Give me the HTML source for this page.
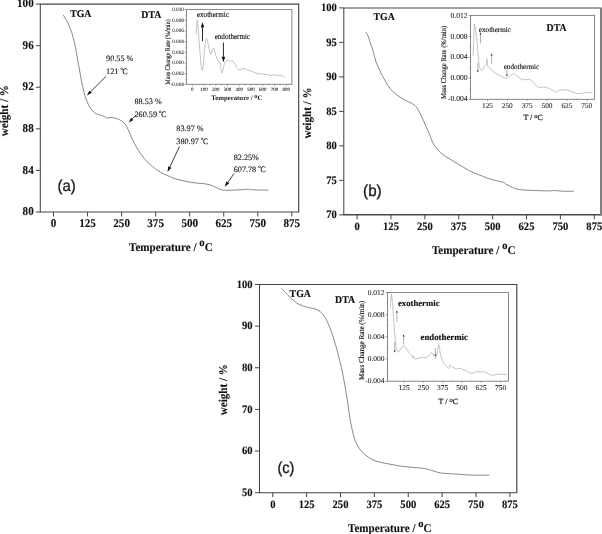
<!DOCTYPE html>
<html lang="en"><head><meta charset="utf-8"><title>TGA / DTA curves</title>
<style>
html,body{margin:0;padding:0;background:#fff}
body{width:602px;height:534px;overflow:hidden}
svg{display:block}
text{font-family:"Liberation Serif",serif;fill:#111;text-rendering:geometricPrecision}
.tk{font-size:11.1px;font-weight:bold;stroke:#111;stroke-width:.12}
.tk10{font-size:10.6px;font-weight:bold;stroke:#111;stroke-width:.12}
.al{font-size:11.1px;font-weight:bold;stroke:#111;stroke-width:.12}
.bl{font-size:9.8px;font-weight:bold;stroke:#111;stroke-width:.15}
.pl{font-family:"Liberation Sans",sans-serif;font-size:16px;fill:#1a1a1a;stroke:#1a1a1a;stroke-width:.35}
.an{font-size:8.2px;fill:#111;stroke:#111;stroke-width:.1}
.it{fill:#1a1a1a;stroke:#1a1a1a;stroke-width:.07}
.itb{fill:#1a1a1a;stroke:#1a1a1a;stroke-width:.22}
.iy{fill:#111;stroke:#111;stroke-width:.14}
.ibx{font-weight:bold;fill:#1a1a1a}
.in{fill:#111;stroke:#111;stroke-width:.13}
.ib{font-weight:bold;fill:#111;stroke:#111;stroke-width:.15}
</style></head><body>
<svg width="602" height="534" viewBox="0 0 602 534">
<rect width="602" height="534" fill="#fff"/>
<g id="a">
<path d="M40.3,212.0V4.1H298.7" fill="none" stroke="#444" stroke-width="1.05"/>
<path d="M39.8,212.0H298.7V3.5999999999999996" fill="none" stroke="#444" stroke-width="1.15"/>
<path d="M35.90,4.10H40.30" stroke="#444" stroke-width="1"/><path d="M35.90,45.68H40.30" stroke="#444" stroke-width="1"/><path d="M35.90,87.26H40.30" stroke="#444" stroke-width="1"/><path d="M35.90,128.84H40.30" stroke="#444" stroke-width="1"/><path d="M35.90,170.42H40.30" stroke="#444" stroke-width="1"/><path d="M35.90,212.00H40.30" stroke="#444" stroke-width="1"/>
<path d="M53.50,212.00V216.50" stroke="#444" stroke-width="1"/><path d="M87.55,212.00V216.50" stroke="#444" stroke-width="1"/><path d="M121.60,212.00V216.50" stroke="#444" stroke-width="1"/><path d="M155.65,212.00V216.50" stroke="#444" stroke-width="1"/><path d="M189.70,212.00V216.50" stroke="#444" stroke-width="1"/><path d="M223.75,212.00V216.50" stroke="#444" stroke-width="1"/><path d="M257.80,212.00V216.50" stroke="#444" stroke-width="1"/><path d="M291.85,212.00V216.50" stroke="#444" stroke-width="1"/>
<text transform="translate(33.7,7.2) scale(1,1.07)" class="tk" text-anchor="end">100</text>
<text transform="translate(33.7,48.8) scale(1,1.07)" class="tk" text-anchor="end">96</text>
<text transform="translate(33.7,90.4) scale(1,1.07)" class="tk" text-anchor="end">92</text>
<text transform="translate(33.7,131.9) scale(1,1.07)" class="tk" text-anchor="end">88</text>
<text transform="translate(33.7,173.5) scale(1,1.07)" class="tk" text-anchor="end">84</text>
<text transform="translate(33.7,215.1) scale(1,1.07)" class="tk" text-anchor="end">80</text>
<text transform="translate(53.5,227.4) scale(1,1.07)" class="tk" text-anchor="middle">0</text>
<text transform="translate(87.5,227.4) scale(1,1.07)" class="tk" text-anchor="middle">125</text>
<text transform="translate(121.6,227.4) scale(1,1.07)" class="tk" text-anchor="middle">250</text>
<text transform="translate(155.6,227.4) scale(1,1.07)" class="tk" text-anchor="middle">375</text>
<text transform="translate(189.7,227.4) scale(1,1.07)" class="tk" text-anchor="middle">500</text>
<text transform="translate(223.8,227.4) scale(1,1.07)" class="tk" text-anchor="middle">625</text>
<text transform="translate(257.8,227.4) scale(1,1.07)" class="tk" text-anchor="middle">750</text>
<text transform="translate(291.8,227.4) scale(1,1.07)" class="tk" text-anchor="middle">875</text>
<text transform="translate(7.9,136.3) rotate(-90) scale(1,1.07)" class="al" font-size="10.9">weight / %</text>
<text transform="translate(129,250.8) scale(1,1.07)" class="al" font-size="10.85">Temperature / <tspan dy="-4.3" font-size="10.85">o</tspan><tspan dy="4.3">C</tspan></text>
<path d="M63.2,15.0 C63.7,15.8 65.1,17.8 66.0,19.5 C66.9,21.2 67.7,22.4 68.8,25.0 C69.8,27.6 71.5,31.7 72.5,35.0 C73.5,38.3 74.2,41.5 75.0,45.0 C75.8,48.5 76.2,51.8 77.0,56.0 C77.8,60.2 78.8,66.0 79.5,70.0 C80.2,74.0 80.7,76.9 81.3,80.1 C81.9,83.2 82.6,86.2 83.2,88.9 C83.8,91.6 84.5,94.3 85.1,96.4 C85.7,98.5 86.2,99.5 87.0,101.4 C87.8,103.3 88.9,105.9 90.1,107.7 C91.2,109.5 92.8,111.0 93.9,112.1 C95.1,113.2 95.8,113.7 97.0,114.2 C98.2,114.7 99.5,114.7 100.8,115.1 C102.1,115.5 103.4,116.2 104.6,116.7 C105.8,117.2 106.8,118.1 107.7,118.2 C108.6,118.3 109.3,117.6 110.2,117.5 C111.1,117.4 112.0,117.5 113.3,117.7 C114.5,118.0 116.3,118.5 117.7,119.0 C119.1,119.5 120.2,120.0 121.5,120.9 C122.8,121.8 124.3,122.9 125.5,124.6 C126.7,126.3 127.6,128.5 128.8,131.0 C130.0,133.5 131.0,136.8 132.5,139.8 C134.0,142.8 135.5,145.6 137.6,148.9 C139.7,152.2 142.6,156.7 145.1,159.6 C147.6,162.5 150.1,164.4 152.6,166.5 C155.1,168.6 157.7,170.6 160.2,172.1 C162.7,173.6 165.1,174.4 167.7,175.6 C170.3,176.8 172.9,178.0 176.0,179.0 C179.1,180.0 182.7,180.7 186.0,181.4 C189.3,182.1 192.7,182.6 196.0,183.0 C199.3,183.4 203.2,183.5 206.0,184.0 C208.8,184.5 210.6,185.1 212.5,185.8 C214.4,186.5 215.8,187.5 217.5,188.2 C219.2,188.9 220.8,189.7 222.5,190.0 C224.2,190.3 224.6,190.3 227.5,190.3 C230.4,190.3 236.7,190.0 240.0,189.8 C243.3,189.6 245.4,189.2 247.5,189.2 C249.6,189.2 249.0,189.7 252.5,189.8 C256.0,190.0 265.8,190.1 268.5,190.1" fill="none" stroke="#606060" stroke-width="0.75"/>
<text transform="translate(70.2,16.5) scale(1,1.07)" class="bl">TGA</text>
<text transform="translate(141.3,17.9) scale(1,1.07)" class="bl" font-size="10.1">DTA</text>
<text x="57.5" y="191.4" class="pl" textLength="18.2" lengthAdjust="spacingAndGlyphs">(a)</text>
<text x="106.1" y="61.2" class="an">90.55 %</text>
<text x="106.1" y="73.7" class="an">121 <tspan dy="-3.6" font-size="4.9">o</tspan><tspan dy="3.6" dx="-0.3" textLength="5.2" lengthAdjust="spacingAndGlyphs">C</tspan></text>
<text x="134.5" y="103.8" class="an">88.53 %</text>
<text x="134.5" y="116.5" class="an">260.59 <tspan dy="-3.6" font-size="4.9">o</tspan><tspan dy="3.6" dx="-0.3" textLength="5.2" lengthAdjust="spacingAndGlyphs">C</tspan></text>
<text x="176.3" y="131.3" class="an">83.97 %</text>
<text x="176.3" y="144" class="an">380.97 <tspan dy="-3.6" font-size="4.9">o</tspan><tspan dy="3.6" dx="-0.3" textLength="5.2" lengthAdjust="spacingAndGlyphs">C</tspan></text>
<text x="233.7" y="159.8" class="an">82.25%</text>
<text x="233.7" y="172" class="an">607.78 <tspan dy="-3.6" font-size="4.9">o</tspan><tspan dy="3.6" dx="-0.3" textLength="5.2" lengthAdjust="spacingAndGlyphs">C</tspan></text>
<path d="M106.2,76.2L90.7,91.6" stroke="#111" stroke-width="0.8" fill="none"/><path d="M86.8,95.5L89.5,90.4L91.9,92.8Z" fill="#111"/>
<path d="M135.8,115.2L132.2,118.9" stroke="#111" stroke-width="0.8" fill="none"/><path d="M128.8,122.5L131.0,117.7L133.4,120.1Z" fill="#111"/>
<path d="M179.5,146.5L169.8,167.0" stroke="#111" stroke-width="0.8" fill="none"/><path d="M167.5,172.0L168.3,166.3L171.4,167.7Z" fill="#111"/>
<path d="M234.1,173.4L227.9,182.3" stroke="#111" stroke-width="0.8" fill="none"/><path d="M224.7,186.8L226.5,181.3L229.3,183.3Z" fill="#111"/>
<rect x="186.4" y="9.6" width="105.50" height="74.70" fill="none" stroke="#7a7a7a" stroke-width="0.9"/>
<path d="M184.50,9.60H186.40" stroke="#7a7a7a" stroke-width="0.7"/><path d="M184.50,20.27H186.40" stroke="#7a7a7a" stroke-width="0.7"/><path d="M184.50,30.94H186.40" stroke="#7a7a7a" stroke-width="0.7"/><path d="M184.50,41.61H186.40" stroke="#7a7a7a" stroke-width="0.7"/><path d="M184.50,52.29H186.40" stroke="#7a7a7a" stroke-width="0.7"/><path d="M184.50,62.96H186.40" stroke="#7a7a7a" stroke-width="0.7"/><path d="M184.50,73.63H186.40" stroke="#7a7a7a" stroke-width="0.7"/><path d="M184.50,84.30H186.40" stroke="#7a7a7a" stroke-width="0.7"/>
<path d="M185.36,14.94H186.40" stroke="#7a7a7a" stroke-width="0.6"/><path d="M185.36,25.61H186.40" stroke="#7a7a7a" stroke-width="0.6"/><path d="M185.36,36.28H186.40" stroke="#7a7a7a" stroke-width="0.6"/><path d="M185.36,46.95H186.40" stroke="#7a7a7a" stroke-width="0.6"/><path d="M185.36,57.62H186.40" stroke="#7a7a7a" stroke-width="0.6"/><path d="M185.36,68.29H186.40" stroke="#7a7a7a" stroke-width="0.6"/><path d="M185.36,78.96H186.40" stroke="#7a7a7a" stroke-width="0.6"/>
<path d="M192.30,84.30V85.82" stroke="#7a7a7a" stroke-width="0.7"/><path d="M204.05,84.30V85.82" stroke="#7a7a7a" stroke-width="0.7"/><path d="M215.80,84.30V85.82" stroke="#7a7a7a" stroke-width="0.7"/><path d="M227.55,84.30V85.82" stroke="#7a7a7a" stroke-width="0.7"/><path d="M239.30,84.30V85.82" stroke="#7a7a7a" stroke-width="0.7"/><path d="M251.05,84.30V85.82" stroke="#7a7a7a" stroke-width="0.7"/><path d="M262.80,84.30V85.82" stroke="#7a7a7a" stroke-width="0.7"/><path d="M274.55,84.30V85.82" stroke="#7a7a7a" stroke-width="0.7"/><path d="M286.30,84.30V85.82" stroke="#7a7a7a" stroke-width="0.7"/>
<path d="M198.18,84.30V85.25" stroke="#7a7a7a" stroke-width="0.6"/><path d="M209.93,84.30V85.25" stroke="#7a7a7a" stroke-width="0.6"/><path d="M221.68,84.30V85.25" stroke="#7a7a7a" stroke-width="0.6"/><path d="M233.43,84.30V85.25" stroke="#7a7a7a" stroke-width="0.6"/><path d="M245.18,84.30V85.25" stroke="#7a7a7a" stroke-width="0.6"/><path d="M256.93,84.30V85.25" stroke="#7a7a7a" stroke-width="0.6"/><path d="M268.68,84.30V85.25" stroke="#7a7a7a" stroke-width="0.6"/><path d="M280.43,84.30V85.25" stroke="#7a7a7a" stroke-width="0.6"/>
<text x="183.9" y="10.9" class="it" font-size="5.2" text-anchor="end">0.010</text>
<text x="183.9" y="21.6" class="it" font-size="5.2" text-anchor="end">0.008</text>
<text x="183.9" y="32.2" class="it" font-size="5.2" text-anchor="end">0.006</text>
<text x="183.9" y="42.9" class="it" font-size="5.2" text-anchor="end">0.004</text>
<text x="183.9" y="53.6" class="it" font-size="5.2" text-anchor="end">0.002</text>
<text x="183.9" y="64.3" class="it" font-size="5.2" text-anchor="end">0.000</text>
<text x="183.9" y="74.9" class="it" font-size="5.2" text-anchor="end">-0.002</text>
<text x="183.9" y="85.6" class="it" font-size="5.2" text-anchor="end">-0.004</text>
<text x="192.3" y="90.8" class="it" font-size="5.0" text-anchor="middle">0</text>
<text x="204.1" y="90.8" class="it" font-size="5.0" text-anchor="middle">100</text>
<text x="215.8" y="90.8" class="it" font-size="5.0" text-anchor="middle">200</text>
<text x="227.6" y="90.8" class="it" font-size="5.0" text-anchor="middle">300</text>
<text x="239.3" y="90.8" class="it" font-size="5.0" text-anchor="middle">400</text>
<text x="251.1" y="90.8" class="it" font-size="5.0" text-anchor="middle">500</text>
<text x="262.8" y="90.8" class="it" font-size="5.0" text-anchor="middle">600</text>
<text x="274.6" y="90.8" class="it" font-size="5.0" text-anchor="middle">700</text>
<text x="286.3" y="90.8" class="it" font-size="5.0" text-anchor="middle">800</text>
<text transform="translate(170.1,84.4) rotate(-90)" class="iy" font-size="6.9" textLength="65" lengthAdjust="spacingAndGlyphs">Mass Change Rate (%/min)</text>
<text x="211.3" y="100" class="ibx" font-size="6.8">Temperature / <tspan dy="-2.4" font-size="6.4">o</tspan><tspan dy="2.4">C</tspan></text>
<path d="M196.2,34.4 C196.3,33.0 196.5,28.4 196.7,26.0 C196.9,23.6 197.0,19.8 197.2,19.8 C197.4,19.8 197.7,22.3 198.0,26.0 C198.3,29.7 198.8,36.3 199.2,42.0 C199.6,47.7 200.2,55.7 200.6,60.0 C201.0,64.3 201.3,66.3 201.6,68.0 C201.9,69.7 202.0,70.6 202.3,70.3 C202.6,70.0 202.9,69.0 203.2,66.0 C203.5,63.0 204.0,56.0 204.3,52.0 C204.7,48.0 205.0,44.2 205.3,42.0 C205.6,39.8 205.9,38.7 206.3,38.5 C206.7,38.3 207.1,39.3 207.5,41.0 C207.9,42.7 208.5,46.3 209.0,48.5 C209.5,50.7 210.2,53.6 210.6,54.4 C211.0,55.1 211.2,53.9 211.5,53.0 C211.8,52.1 212.3,49.8 212.6,49.0 C212.9,48.2 213.2,47.9 213.5,48.1 C213.8,48.4 214.2,49.2 214.6,50.5 C215.0,51.8 215.5,54.4 216.0,56.0 C216.5,57.6 217.0,59.1 217.5,60.0 C218.0,60.9 218.6,61.0 219.0,61.5 C219.4,62.0 219.7,61.8 220.0,63.0 C220.3,64.2 220.7,67.3 221.0,69.0 C221.3,70.7 221.6,72.9 221.9,73.1 C222.2,73.3 222.6,71.4 223.0,70.0 C223.4,68.6 223.8,66.0 224.2,64.5 C224.6,63.0 224.9,62.0 225.5,61.3 C226.1,60.5 226.9,60.1 227.5,60.0 C228.1,59.9 228.5,60.2 229.0,60.5 C229.5,60.8 229.9,61.5 230.4,61.5 C230.9,61.5 231.7,60.6 232.2,60.6 C232.8,60.6 233.1,61.3 233.5,61.8 C233.9,62.3 234.2,62.9 234.8,63.8 C235.2,64.6 235.9,66.0 236.5,67.0 C237.1,68.0 237.8,69.6 238.5,70.0 C239.2,70.4 240.1,69.7 241.0,69.4 C241.9,69.1 243.1,68.3 244.1,68.4 C245.1,68.5 246.1,69.6 247.2,70.0 C248.4,70.4 249.5,70.5 251.0,71.0 C252.5,71.5 254.3,72.6 256.0,73.1 C257.7,73.6 259.8,73.9 261.0,74.1 C262.2,74.2 262.7,73.9 263.5,74.0 C264.3,74.1 265.4,74.7 266.0,74.8 C266.6,74.8 266.4,74.3 267.2,74.4 C268.1,74.5 269.8,75.5 271.0,75.6 C272.2,75.7 273.5,74.8 274.8,74.8 C276.0,74.8 277.5,75.5 278.5,75.6 C279.5,75.7 280.0,74.9 281.0,75.2 C282.0,75.6 284.1,77.1 284.8,77.5" fill="none" stroke="#9a9a9a" stroke-width="0.6"/>
<text x="196.9" y="16.9" class="in" font-size="8" textLength="31.9" lengthAdjust="spacingAndGlyphs">exothermic</text>
<text x="214.7" y="38.8" class="in" font-size="8" textLength="35.3" lengthAdjust="spacingAndGlyphs">endothermic</text>
<path d="M202.5,41.2L202.5,27.6" stroke="#111" stroke-width="0.9" fill="none"/><path d="M202.5,22.1L204.2,27.6L200.8,27.6Z" fill="#111"/>
<path d="M223.4,42.5L223.4,56.8" stroke="#111" stroke-width="0.9" fill="none"/><path d="M223.4,62.2L221.7,56.8L225.2,56.8Z" fill="#111"/>
</g>
<g id="b">
<path d="M343.8,214.85V7.9H600.6" fill="none" stroke="#444" stroke-width="1.05"/>
<path d="M343.3,214.85H602" fill="none" stroke="#4a4a4a" stroke-width="1.5"/>
<path d="M601,7.4V215.6" fill="none" stroke="#808080" stroke-width="2"/>
<path d="M339.20,7.90H343.80" stroke="#444" stroke-width="1"/><path d="M339.20,42.39H343.80" stroke="#444" stroke-width="1"/><path d="M339.20,76.88H343.80" stroke="#444" stroke-width="1"/><path d="M339.20,111.37H343.80" stroke="#444" stroke-width="1"/><path d="M339.20,145.87H343.80" stroke="#444" stroke-width="1"/><path d="M339.20,180.36H343.80" stroke="#444" stroke-width="1"/><path d="M339.20,214.85H343.80" stroke="#444" stroke-width="1"/>
<path d="M357.10,214.85V219.35" stroke="#444" stroke-width="1"/><path d="M390.98,214.85V219.35" stroke="#444" stroke-width="1"/><path d="M424.86,214.85V219.35" stroke="#444" stroke-width="1"/><path d="M458.74,214.85V219.35" stroke="#444" stroke-width="1"/><path d="M492.62,214.85V219.35" stroke="#444" stroke-width="1"/><path d="M526.50,214.85V219.35" stroke="#444" stroke-width="1"/><path d="M560.38,214.85V219.35" stroke="#444" stroke-width="1"/><path d="M594.26,214.85V219.35" stroke="#444" stroke-width="1"/>
<text transform="translate(336.9,11.0) scale(1,1.07)" class="tk10" text-anchor="end">100</text>
<text transform="translate(336.9,45.5) scale(1,1.07)" class="tk10" text-anchor="end">95</text>
<text transform="translate(336.9,80.0) scale(1,1.07)" class="tk10" text-anchor="end">90</text>
<text transform="translate(336.9,114.5) scale(1,1.07)" class="tk10" text-anchor="end">85</text>
<text transform="translate(336.9,149.0) scale(1,1.07)" class="tk10" text-anchor="end">80</text>
<text transform="translate(336.9,183.5) scale(1,1.07)" class="tk10" text-anchor="end">75</text>
<text transform="translate(336.9,217.9) scale(1,1.07)" class="tk10" text-anchor="end">70</text>
<text transform="translate(357.1,230.1) scale(1,1.07)" class="tk10" text-anchor="middle">0</text>
<text transform="translate(391.0,230.1) scale(1,1.07)" class="tk10" text-anchor="middle">125</text>
<text transform="translate(424.9,230.1) scale(1,1.07)" class="tk10" text-anchor="middle">250</text>
<text transform="translate(458.7,230.1) scale(1,1.07)" class="tk10" text-anchor="middle">375</text>
<text transform="translate(492.6,230.1) scale(1,1.07)" class="tk10" text-anchor="middle">500</text>
<text transform="translate(526.5,230.1) scale(1,1.07)" class="tk10" text-anchor="middle">625</text>
<text transform="translate(560.4,230.1) scale(1,1.07)" class="tk10" text-anchor="middle">750</text>
<text transform="translate(594.3,230.1) scale(1,1.07)" class="tk10" text-anchor="middle">875</text>
<text transform="translate(311.1,138.6) rotate(-90) scale(1,1.07)" class="al" font-size="10.75">weight / %</text>
<text transform="translate(431.9,253.5) scale(1,1.07)" class="al" font-size="10.55">Temperature / <tspan dy="-4.3" font-size="10.55">o</tspan><tspan dy="4.3">C</tspan></text>
<path d="M365.7,31.9 C366.0,32.4 366.9,33.3 367.7,35.1 C368.4,36.9 369.3,39.9 370.2,42.6 C371.1,45.3 372.3,48.3 373.2,51.4 C374.1,54.5 374.7,58.1 375.7,61.0 C376.7,63.9 377.8,66.4 379.0,69.0 C380.2,71.6 381.3,73.8 382.8,76.5 C384.3,79.2 386.1,82.8 387.8,85.3 C389.5,87.8 390.9,89.6 392.8,91.5 C394.7,93.4 397.0,95.1 399.1,96.6 C401.2,98.1 403.2,99.2 405.3,100.3 C407.4,101.4 409.8,102.2 411.6,103.3 C413.4,104.3 414.5,105.0 415.9,106.6 C417.3,108.2 418.6,110.6 419.9,112.9 C421.1,115.2 422.3,117.9 423.4,120.4 C424.5,122.9 425.6,125.4 426.7,127.9 C427.8,130.4 428.9,132.8 430.0,135.5 C431.1,138.2 431.8,141.2 433.5,144.0 C435.2,146.8 437.8,150.1 440.5,152.6 C443.2,155.1 446.4,156.9 450.0,159.2 C453.6,161.5 458.3,164.3 462.0,166.4 C465.7,168.5 468.7,170.4 472.0,172.0 C475.3,173.6 478.6,174.7 482.0,176.0 C485.4,177.3 488.5,178.5 492.1,179.6 C495.7,180.7 501.1,181.6 503.4,182.4 C505.7,183.2 504.6,183.5 505.9,184.2 C507.2,184.9 509.1,185.8 511.0,186.6 C512.9,187.4 514.5,188.6 517.2,189.2 C519.9,189.8 522.2,189.9 527.2,190.2 C532.2,190.5 542.7,190.8 547.3,190.9 C551.9,191.0 552.3,190.4 554.8,190.5 C557.3,190.6 559.2,191.1 562.4,191.2 C565.6,191.3 572.0,191.2 573.9,191.2" fill="none" stroke="#606060" stroke-width="0.75"/>
<text transform="translate(373.5,20.2) scale(1,1.07)" class="bl">TGA</text>
<text transform="translate(546.6,30.7) scale(1,1.07)" class="bl">DTA</text>
<text x="363.1" y="196.4" class="pl" textLength="18.5" lengthAdjust="spacingAndGlyphs">(b)</text>
<rect x="470.5" y="15.4" width="124.10" height="83.90" fill="none" stroke="#7a7a7a" stroke-width="0.9"/>
<path d="M468.50,15.40H470.50" stroke="#7a7a7a" stroke-width="0.7"/><path d="M468.50,36.38H470.50" stroke="#7a7a7a" stroke-width="0.7"/><path d="M468.50,57.35H470.50" stroke="#7a7a7a" stroke-width="0.7"/><path d="M468.50,78.33H470.50" stroke="#7a7a7a" stroke-width="0.7"/><path d="M468.50,99.30H470.50" stroke="#7a7a7a" stroke-width="0.7"/>
<path d="M469.40,25.89H470.50" stroke="#7a7a7a" stroke-width="0.6"/><path d="M469.40,46.86H470.50" stroke="#7a7a7a" stroke-width="0.6"/><path d="M469.40,67.84H470.50" stroke="#7a7a7a" stroke-width="0.6"/><path d="M469.40,88.81H470.50" stroke="#7a7a7a" stroke-width="0.6"/>
<path d="M487.50,99.30V100.90" stroke="#7a7a7a" stroke-width="0.7"/><path d="M507.34,99.30V100.90" stroke="#7a7a7a" stroke-width="0.7"/><path d="M527.18,99.30V100.90" stroke="#7a7a7a" stroke-width="0.7"/><path d="M547.02,99.30V100.90" stroke="#7a7a7a" stroke-width="0.7"/><path d="M566.86,99.30V100.90" stroke="#7a7a7a" stroke-width="0.7"/><path d="M586.70,99.30V100.90" stroke="#7a7a7a" stroke-width="0.7"/>
<path d="M477.58,99.30V100.30" stroke="#7a7a7a" stroke-width="0.6"/><path d="M497.42,99.30V100.30" stroke="#7a7a7a" stroke-width="0.6"/><path d="M517.26,99.30V100.30" stroke="#7a7a7a" stroke-width="0.6"/><path d="M537.10,99.30V100.30" stroke="#7a7a7a" stroke-width="0.6"/><path d="M556.94,99.30V100.30" stroke="#7a7a7a" stroke-width="0.6"/><path d="M576.78,99.30V100.30" stroke="#7a7a7a" stroke-width="0.6"/>
<text x="467.6" y="17.5" class="it" font-size="7.6" text-anchor="end">0.012</text>
<text x="467.6" y="38.5" class="it" font-size="7.6" text-anchor="end">0.008</text>
<text x="467.6" y="59.4" class="it" font-size="7.6" text-anchor="end">0.004</text>
<text x="467.6" y="80.4" class="it" font-size="7.6" text-anchor="end">0.000</text>
<text x="467.6" y="101.4" class="it" font-size="7.6" text-anchor="end">-0.004</text>
<text x="487.5" y="107.6" class="it" font-size="7.3" text-anchor="middle">125</text>
<text x="507.3" y="107.6" class="it" font-size="7.3" text-anchor="middle">250</text>
<text x="527.2" y="107.6" class="it" font-size="7.3" text-anchor="middle">375</text>
<text x="547.0" y="107.6" class="it" font-size="7.3" text-anchor="middle">500</text>
<text x="566.9" y="107.6" class="it" font-size="7.3" text-anchor="middle">625</text>
<text x="586.7" y="107.6" class="it" font-size="7.3" text-anchor="middle">750</text>
<text transform="translate(446.1,98.9) rotate(-90)" class="iy" font-size="7.3" textLength="73" lengthAdjust="spacingAndGlyphs">Mass Change Rate (%/min)</text>
<text x="533.1" y="120.4" class="itb" font-size="7.9" text-anchor="middle">T / <tspan dy="-2.3" font-size="6.6">o</tspan><tspan dy="2.3">C</tspan></text>
<path d="M473.1,55.6 C473.2,52.7 473.6,43.3 473.8,38.0 C474.0,32.7 474.1,25.3 474.4,24.0 C474.7,22.7 475.1,27.3 475.5,30.0 C475.9,32.7 476.5,36.2 476.9,40.0 C477.3,43.8 477.7,49.2 478.0,53.0 C478.3,56.8 478.5,60.2 478.8,62.5 C479.0,64.8 479.3,65.8 479.6,67.0 C479.9,68.2 480.1,68.9 480.6,69.4 C481.1,69.9 481.9,70.5 482.5,70.0 C483.1,69.5 483.8,67.2 484.4,66.2 C485.0,65.3 485.7,65.3 486.1,64.6 C486.5,63.9 486.5,63.0 486.6,62.0 C486.7,61.0 486.8,58.6 486.9,58.8 C487.0,58.9 487.1,61.8 487.3,63.0 C487.5,64.2 487.4,65.3 487.9,66.2 C488.3,67.2 489.0,67.8 490.0,68.8 C491.0,69.7 492.3,70.9 493.8,71.9 C495.2,72.9 497.1,74.1 498.8,75.0 C500.4,75.9 502.5,77.0 503.8,77.5 C505.0,78.0 505.3,78.3 506.2,78.1 C507.2,77.9 508.3,77.0 509.4,76.2 C510.5,75.5 512.1,74.0 513.1,73.8 C514.1,73.5 514.5,74.2 515.6,75.0 C516.8,75.8 518.4,77.7 520.0,78.5 C521.6,79.3 523.5,79.6 525.0,79.8 C526.5,79.9 527.8,79.4 528.8,79.4 C529.7,79.4 529.8,79.1 530.5,79.6 C531.2,80.1 532.1,81.3 533.2,82.5 C534.4,83.7 536.4,86.1 537.6,86.9 C538.9,87.7 539.7,87.5 540.8,87.5 C541.8,87.5 542.6,86.8 543.9,86.9 C545.1,87.0 546.9,87.6 548.2,88.1 C549.6,88.6 550.6,89.1 552.0,89.8 C553.4,90.4 555.1,92.2 556.4,92.2 C557.6,92.3 558.4,90.7 559.5,90.2 C560.6,89.8 561.8,89.8 563.2,89.8 C564.7,89.8 566.6,89.8 568.2,90.2 C569.9,90.7 571.8,91.7 573.2,92.2 C574.7,92.8 575.5,93.3 577.0,93.5 C578.5,93.7 580.5,93.6 582.0,93.4 C583.5,93.2 584.0,92.6 585.8,92.5 C587.5,92.4 591.5,92.8 592.7,92.8" fill="none" stroke="#9a9a9a" stroke-width="0.6"/>
<text x="478.8" y="31.9" class="in" font-size="7.3" textLength="32.2" lengthAdjust="spacingAndGlyphs">exothermic</text>
<text x="503.7" y="68.9" class="in" font-size="7.3" textLength="35.5" lengthAdjust="spacingAndGlyphs">endothermic</text>
<path d="M480.5,43.3V33.800000000000004" stroke="#a8a8a8" stroke-width="0.9"/><path d="M480.5,32.6l-1,2.0h2z" fill="#2a2a2a"/>
<path d="M477.9,62.5V71.2" stroke="#a8a8a8" stroke-width="0.9"/><path d="M477.9,72.4l-1,-2.0h2z" fill="#2a2a2a"/>
<path d="M491.6,63.75V54.800000000000004" stroke="#a8a8a8" stroke-width="0.9"/><path d="M491.6,53.6l-1,2.0h2z" fill="#2a2a2a"/>
<path d="M506.9,70V75.39999999999999" stroke="#a8a8a8" stroke-width="0.9"/><path d="M506.9,76.6l-1,-2.0h2z" fill="#2a2a2a"/>
</g>
<g id="c">
<path d="M259.5,492.7V284.45H516.8" fill="none" stroke="#444" stroke-width="1.05"/>
<path d="M259.0,492.7H516.8V283.95" fill="none" stroke="#444" stroke-width="1.15"/>
<path d="M255.00,284.45H259.50" stroke="#444" stroke-width="1"/><path d="M255.00,326.10H259.50" stroke="#444" stroke-width="1"/><path d="M255.00,367.75H259.50" stroke="#444" stroke-width="1"/><path d="M255.00,409.40H259.50" stroke="#444" stroke-width="1"/><path d="M255.00,451.05H259.50" stroke="#444" stroke-width="1"/><path d="M255.00,492.70H259.50" stroke="#444" stroke-width="1"/>
<path d="M272.75,492.70V497.10" stroke="#444" stroke-width="1"/><path d="M306.63,492.70V497.10" stroke="#444" stroke-width="1"/><path d="M340.51,492.70V497.10" stroke="#444" stroke-width="1"/><path d="M374.39,492.70V497.10" stroke="#444" stroke-width="1"/><path d="M408.27,492.70V497.10" stroke="#444" stroke-width="1"/><path d="M442.15,492.70V497.10" stroke="#444" stroke-width="1"/><path d="M476.03,492.70V497.10" stroke="#444" stroke-width="1"/><path d="M509.91,492.70V497.10" stroke="#444" stroke-width="1"/>
<text transform="translate(252.6,287.6) scale(1,1.07)" class="tk10" text-anchor="end">100</text>
<text transform="translate(252.6,329.2) scale(1,1.07)" class="tk10" text-anchor="end">90</text>
<text transform="translate(252.6,370.9) scale(1,1.07)" class="tk10" text-anchor="end">80</text>
<text transform="translate(252.6,412.5) scale(1,1.07)" class="tk10" text-anchor="end">70</text>
<text transform="translate(252.6,454.1) scale(1,1.07)" class="tk10" text-anchor="end">60</text>
<text transform="translate(252.6,495.8) scale(1,1.07)" class="tk10" text-anchor="end">50</text>
<text transform="translate(272.8,508.2) scale(1,1.07)" class="tk10" text-anchor="middle">0</text>
<text transform="translate(306.6,508.2) scale(1,1.07)" class="tk10" text-anchor="middle">125</text>
<text transform="translate(340.5,508.2) scale(1,1.07)" class="tk10" text-anchor="middle">250</text>
<text transform="translate(374.4,508.2) scale(1,1.07)" class="tk10" text-anchor="middle">375</text>
<text transform="translate(408.3,508.2) scale(1,1.07)" class="tk10" text-anchor="middle">500</text>
<text transform="translate(442.1,508.2) scale(1,1.07)" class="tk10" text-anchor="middle">625</text>
<text transform="translate(476.0,508.2) scale(1,1.07)" class="tk10" text-anchor="middle">750</text>
<text transform="translate(509.9,508.2) scale(1,1.07)" class="tk10" text-anchor="middle">875</text>
<text transform="translate(226.9,415.2) rotate(-90) scale(1,1.07)" class="al" font-size="10.35">weight / %</text>
<text transform="translate(348,531.6) scale(1,1.07)" class="al" font-size="10.5">Temperature / <tspan dy="-4.2" font-size="10.5">o</tspan><tspan dy="4.2">C</tspan></text>
<path d="M281.5,288.3 C282.5,289.4 285.7,293.0 287.8,295.1 C289.8,297.2 292.1,299.2 294.0,300.8 C295.9,302.4 296.9,303.3 299.0,304.4 C301.1,305.4 304.3,306.4 306.6,307.1 C308.9,307.8 310.9,307.9 312.8,308.4 C314.7,308.9 316.3,309.2 317.9,310.1 C319.5,311.0 321.1,312.4 322.4,313.9 C323.7,315.4 324.6,316.6 325.9,318.9 C327.1,321.2 328.5,324.1 329.9,327.7 C331.3,331.2 332.8,335.6 334.2,340.2 C335.6,344.8 336.9,349.4 338.4,355.3 C339.9,361.2 341.6,368.2 343.0,375.3 C344.4,382.4 345.9,391.4 347.0,398.0 C348.1,404.6 348.6,410.1 349.4,415.0 C350.2,419.9 350.9,423.8 351.7,427.6 C352.5,431.4 353.4,434.9 354.2,437.6 C355.0,440.3 355.7,441.9 356.7,443.9 C357.7,445.9 358.6,447.7 360.0,449.5 C361.4,451.3 362.9,453.0 365.0,454.7 C367.1,456.4 370.0,458.4 372.5,459.7 C375.0,460.9 377.1,461.4 380.0,462.2 C382.9,462.9 386.7,463.6 390.0,464.2 C393.3,464.8 396.7,465.5 400.0,466.0 C403.3,466.5 406.7,466.9 410.0,467.2 C413.3,467.5 417.1,467.7 420.0,468.0 C422.9,468.3 425.0,468.6 427.5,469.2 C430.0,469.8 432.5,470.8 435.0,471.5 C437.5,472.2 439.2,472.8 442.5,473.2 C445.8,473.6 450.4,473.7 455.0,474.0 C459.6,474.3 465.8,474.8 470.0,475.0 C474.2,475.2 476.8,475.2 480.0,475.2 C483.2,475.2 487.8,475.2 489.4,475.2" fill="none" stroke="#606060" stroke-width="0.75"/>
<text transform="translate(289.6,296.7) scale(1,1.07)" class="bl" font-size="9.1">TGA</text>
<text transform="translate(335.1,303.1) scale(1,1.07)" class="bl" font-size="9.4">DTA</text>
<text x="277.5" y="472.7" class="pl" font-size="15.3" textLength="16.9" lengthAdjust="spacingAndGlyphs">(c)</text>
<rect x="387.5" y="292.45" width="121.00" height="88.75" fill="none" stroke="#7a7a7a" stroke-width="0.9"/>
<path d="M385.50,292.45H387.50" stroke="#7a7a7a" stroke-width="0.7"/><path d="M385.50,314.64H387.50" stroke="#7a7a7a" stroke-width="0.7"/><path d="M385.50,336.82H387.50" stroke="#7a7a7a" stroke-width="0.7"/><path d="M385.50,359.01H387.50" stroke="#7a7a7a" stroke-width="0.7"/><path d="M385.50,381.20H387.50" stroke="#7a7a7a" stroke-width="0.7"/>
<path d="M386.40,303.54H387.50" stroke="#7a7a7a" stroke-width="0.6"/><path d="M386.40,325.73H387.50" stroke="#7a7a7a" stroke-width="0.6"/><path d="M386.40,347.92H387.50" stroke="#7a7a7a" stroke-width="0.6"/><path d="M386.40,370.11H387.50" stroke="#7a7a7a" stroke-width="0.6"/>
<path d="M404.00,381.20V382.80" stroke="#7a7a7a" stroke-width="0.7"/><path d="M423.30,381.20V382.80" stroke="#7a7a7a" stroke-width="0.7"/><path d="M442.60,381.20V382.80" stroke="#7a7a7a" stroke-width="0.7"/><path d="M461.90,381.20V382.80" stroke="#7a7a7a" stroke-width="0.7"/><path d="M481.20,381.20V382.80" stroke="#7a7a7a" stroke-width="0.7"/><path d="M500.50,381.20V382.80" stroke="#7a7a7a" stroke-width="0.7"/>
<path d="M394.35,381.20V382.20" stroke="#7a7a7a" stroke-width="0.6"/><path d="M413.65,381.20V382.20" stroke="#7a7a7a" stroke-width="0.6"/><path d="M432.95,381.20V382.20" stroke="#7a7a7a" stroke-width="0.6"/><path d="M452.25,381.20V382.20" stroke="#7a7a7a" stroke-width="0.6"/><path d="M471.55,381.20V382.20" stroke="#7a7a7a" stroke-width="0.6"/><path d="M490.85,381.20V382.20" stroke="#7a7a7a" stroke-width="0.6"/>
<text x="384.6" y="294.6" class="it" font-size="7.5" text-anchor="end">0.012</text>
<text x="384.6" y="316.8" class="it" font-size="7.5" text-anchor="end">0.008</text>
<text x="384.6" y="339.0" class="it" font-size="7.5" text-anchor="end">0.004</text>
<text x="384.6" y="361.2" class="it" font-size="7.5" text-anchor="end">0.000</text>
<text x="384.6" y="383.3" class="it" font-size="7.5" text-anchor="end">-0.004</text>
<text x="404.0" y="390" class="it" font-size="7.5" text-anchor="middle">125</text>
<text x="423.3" y="390" class="it" font-size="7.5" text-anchor="middle">250</text>
<text x="442.6" y="390" class="it" font-size="7.5" text-anchor="middle">375</text>
<text x="461.9" y="390" class="it" font-size="7.5" text-anchor="middle">500</text>
<text x="481.2" y="390" class="it" font-size="7.5" text-anchor="middle">625</text>
<text x="500.5" y="390" class="it" font-size="7.5" text-anchor="middle">750</text>
<text transform="translate(363.7,379.9) rotate(-90)" class="iy" font-size="7.5" textLength="79" lengthAdjust="spacingAndGlyphs">Mass Change Rate (%/min)</text>
<text x="448.3" y="404" class="itb" font-size="7.9" text-anchor="middle">T / <tspan dy="-2.3" font-size="6.6">o</tspan><tspan dy="2.3">C</tspan></text>
<path d="M390.3,308.5 C390.4,307.1 390.7,302.4 390.9,300.0 C391.1,297.6 391.3,294.4 391.5,294.4 C391.7,294.4 392.0,297.9 392.2,300.0 C392.4,302.1 392.5,302.7 392.8,306.8 C393.1,310.9 393.6,318.8 394.0,324.4 C394.4,330.0 395.0,336.9 395.3,340.7 C395.6,344.5 395.7,345.4 396.0,347.0 C396.3,348.6 396.5,349.3 396.9,350.1 C397.3,350.9 397.7,352.0 398.2,352.0 C398.7,352.0 399.2,350.9 399.8,350.1 C400.4,349.3 401.3,347.7 401.9,347.0 C402.5,346.3 403.1,346.0 403.6,346.0 C404.1,346.0 404.4,346.2 405.1,347.0 C405.8,347.8 406.9,349.6 407.6,350.7 C408.4,351.8 409.0,352.8 409.6,353.6 C410.2,354.4 410.9,354.6 411.4,355.3 C411.9,356.0 412.4,357.7 412.7,357.8 C413.0,357.9 413.0,355.8 413.4,356.0 C413.8,356.2 414.1,358.7 415.2,359.0 C416.3,359.3 418.3,358.1 420.2,357.8 C422.1,357.5 424.8,357.9 426.5,357.3 C428.2,356.7 429.3,354.8 430.2,354.0 C431.1,353.2 431.4,352.4 432.0,352.8 C432.6,353.2 433.4,355.6 434.0,356.5 C434.6,357.4 435.2,358.9 435.7,358.3 C436.2,357.7 436.8,354.8 437.2,352.8 C437.7,350.8 437.9,347.9 438.2,346.5 C438.4,345.1 438.6,344.5 438.8,344.7 C438.9,344.9 439.1,346.1 439.4,347.5 C439.6,348.9 439.7,350.5 440.2,352.8 C440.8,355.1 441.8,359.2 442.8,361.5 C443.8,363.8 445.5,365.4 446.5,366.5 C447.5,367.6 448.4,368.6 449.0,368.3 C449.6,368.0 449.4,365.1 449.8,364.8 C450.2,364.5 450.4,365.8 451.5,366.5 C452.6,367.2 455.3,368.7 456.6,369.0 C457.9,369.3 457.9,368.2 459.4,368.4 C460.8,368.6 463.3,369.5 465.3,370.3 C467.3,371.1 469.6,373.1 471.6,373.3 C473.6,373.5 475.8,371.6 477.3,371.4 C478.8,371.2 479.5,372.3 480.4,372.3 C481.3,372.3 481.6,371.4 482.9,371.6 C484.1,371.8 486.4,372.7 487.9,373.3 C489.4,373.9 490.0,375.1 491.7,375.3 C493.4,375.5 495.5,374.4 498.0,374.3 C500.5,374.2 505.2,374.5 506.7,374.5" fill="none" stroke="#9a9a9a" stroke-width="0.6"/>
<text x="398" y="305.8" class="ib" font-size="8.7">exothermic</text>
<text x="420.5" y="340.3" class="ib" font-size="8.8">endothermic</text>
<path d="M396.9,321.5V311.7" stroke="#a8a8a8" stroke-width="0.9"/><path d="M396.9,310.5l-1,2.0h2z" fill="#2a2a2a"/>
<path d="M394.7,342V351.40000000000003" stroke="#a8a8a8" stroke-width="0.9"/><path d="M394.7,352.6l-1,-2.0h2z" fill="#2a2a2a"/>
<path d="M403.6,344.5V335.7" stroke="#a8a8a8" stroke-width="0.9"/><path d="M403.6,334.5l-1,2.0h2z" fill="#2a2a2a"/>
<path d="M435.4,348V355.40000000000003" stroke="#a8a8a8" stroke-width="0.9"/><path d="M435.4,356.6l-1,-2.0h2z" fill="#2a2a2a"/>
</g>
</svg>
</body></html>
